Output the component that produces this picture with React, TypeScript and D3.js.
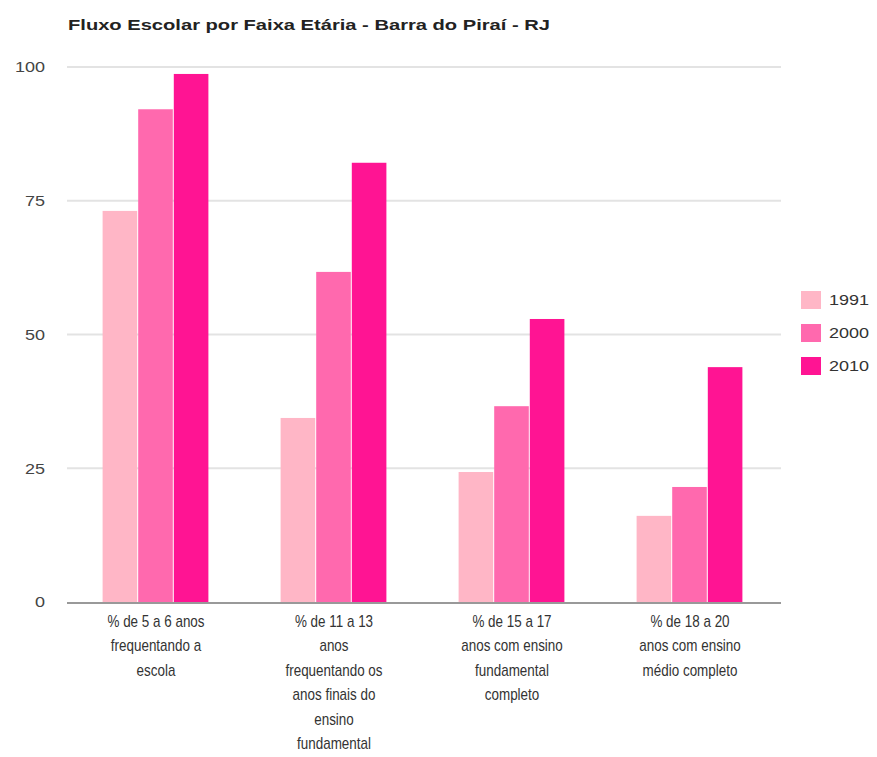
import React from "react";
import * as d3 from "d3";

const title = "Fluxo Escolar por Faixa Etária - Barra do Piraí - RJ";
const categories = [
  "% de 5 a 6 anos frequentando a escola",
  "% de 11 a 13 anos frequentando os anos finais do ensino fundamental",
  "% de 15 a 17 anos com ensino fundamental completo",
  "% de 18 a 20 anos com ensino médio completo",
];
const categoryLines = [
  ["% de 5 a 6 anos", "frequentando a", "escola"],
  ["% de 11 a 13", "anos", "frequentando os", "anos finais do", "ensino", "fundamental"],
  ["% de 15 a 17", "anos com ensino", "fundamental", "completo"],
  ["% de 18 a 20", "anos com ensino", "médio completo"],
];
const seriesNames = ["1991", "2000", "2010"];
const seriesColors = ["#ffb6c6", "#ff69ae", "#ff1493"];
const values1991 = [73.1, 34.4, 24.3, 16.1];
const values2000 = [92.1, 61.7, 36.6, 21.5];
const values2010 = [98.7, 82.1, 52.9, 43.9];
const yTicks = [0, 25, 50, 75, 100];

const seriesValues = [values1991, values2000, values2010];

export default function App() {
  const width = 877;
  const height = 757;
  const left = 67;
  const right = 779;
  const top = 67;
  const bottom = 602;

  const x0 = d3.scaleBand<string>().domain(categories).range([left, right]).paddingInner(0.4).paddingOuter(0.2);
  const x1 = d3.scaleBand<string>().domain(seriesNames).range([0, x0.bandwidth()]);
  const y = d3.scaleLinear().domain([0, 100]).range([bottom, top]);

  const font = "'Liberation Sans', Arial, sans-serif";

  return (
    <svg width={width} height={height} style={{ position: "absolute", left: 0, top: 0 }} fontFamily={font}>
      <rect width={width} height={height} fill="#fff" />
      <text x={68} y={30} fontSize={15} fontWeight="bold" fill="#222" textLength={482} lengthAdjust="spacingAndGlyphs">{title}</text>
      {yTicks.map((t) => (
        <g key={t}>
          {t !== 0 && <line x1={left} x2={right + 2} y1={y(t)} y2={y(t)} stroke="#e3e3e3" strokeWidth={2} />}
          <text transform={`translate(45,${y(t)}) scale(1.2,1)`} dy="0.35em" textAnchor="end" fontSize={15} fill="#444">{t}</text>
        </g>
      ))}
      {categories.map((c, i) => (
        <g key={c} transform={`translate(${x0(c)},0)`}>
          {seriesNames.map((s, j) => (
            <rect
              key={s}
              x={x1(s)!}
              y={y(seriesValues[j][i])}
              width={x1.bandwidth() - 1}
              height={y(0) - y(seriesValues[j][i])}
              fill={seriesColors[j]}
            />
          ))}
        </g>
      ))}
      <line x1={left} x2={right + 2} y1={bottom + 1} y2={bottom + 1} stroke="#999" strokeWidth={2} />
      {categories.map((c, i) => (
        <text key={c} transform={`translate(${x0(c)! + x0.bandwidth() / 2},0) scale(0.84,1)`} textAnchor="middle" fontSize={16} fill="#333">
          {categoryLines[i].map((ln, k) => (
            <tspan key={k} x={0} y={627 + k * 24.5}>{ln}</tspan>
          ))}
        </text>
      ))}
      {seriesNames.map((s, j) => (
        <g key={s} transform={`translate(801,${291 + j * 33})`}>
          <rect width={20} height={18} fill={seriesColors[j]} />
          <text transform="translate(28,9) scale(1.2,1)" dy="0.35em" fontSize={15} fill="#333">{s}</text>
        </g>
      ))}
    </svg>
  );
}
